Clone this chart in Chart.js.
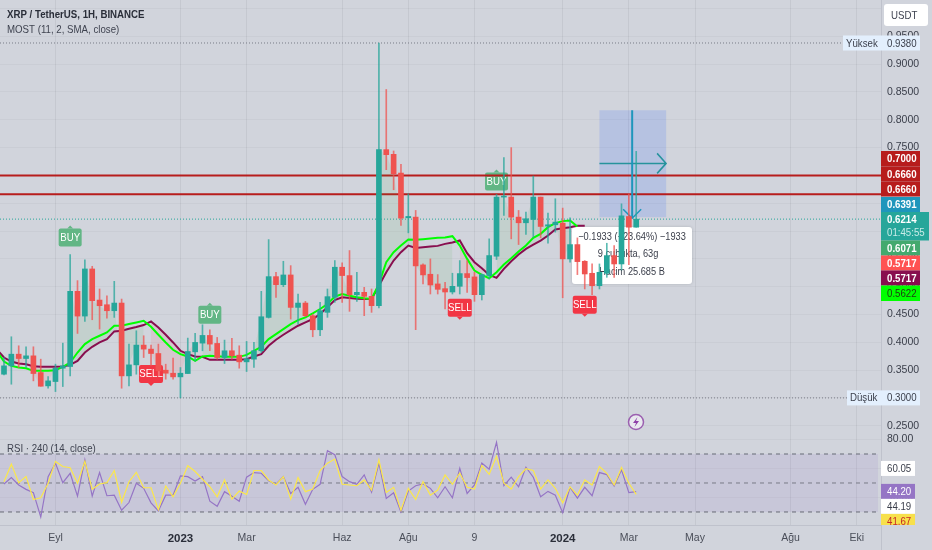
<!DOCTYPE html>
<html>
<head>
    <meta charset="utf-8">
    <title>XRP / TetherUS</title>
    <script src="https://cdn.jsdelivr.net/npm/chart.js"></script>
    <style>
        html, body { margin: 0; padding: 0; background: #d1d4dc; overflow: hidden; }
        canvas { position: absolute; left: 0; }
        #priceChart { top: 0; }
        #rsiChart { top: 433px; }
    </style>
</head>
<body>
    <canvas id="priceChart" width="932" height="433"></canvas>
    <canvas id="rsiChart" width="932" height="117"></canvas>
    <script>
        // candles, one per slot on the time axis
        const opens = [.3426,.3576,.3786,.3708,.3756,.3456,.3216,.3294,.3534,.3564,.4916,.4471,.5318,.4759,.4675,.4567,.4705,.3396,.3594,.3949,.3877,.3798,.3498,.3444,.3378,.3438,.3828,.3985,.4123,.3979,.3726,.3847,.3768,.3648,.3696,.3847,.4447,.5180,.5036,.5210,.4627,.4705,.4477,.4225,.4538,.4808,.5349,.5199,.4856,.4898,.4826,.4658,.7463,.7379,.7042,.6238,.6250,.5391,.5223,.5049,.4964,.4904,.5006,.5235,.5175,.4856,.5199,.5547,.6610,.6610,.6250,.6148,.6208,.6610,.6088,.6112,.6142,.5498,.5756,.5456,.5240,.5018,.5240,.5558,.5408,.6261,.6069];
        const closes = [.3576,.3786,.3708,.3756,.3438,.3210,.3306,.3534,.3576,.4916,.4471,.5318,.4747,.4657,.4567,.4705,.3396,.3594,.3949,.3877,.3798,.3486,.3444,.3378,.3444,.3834,.3997,.4123,.3967,.3726,.3847,.3756,.3648,.3702,.3847,.4459,.5180,.5036,.5210,.4627,.4705,.4477,.4225,.4567,.4820,.5349,.5199,.4856,.4898,.4826,.4658,.7463,.7373,.7030,.6232,.6262,.5373,.5211,.5030,.4952,.4904,.5006,.5235,.5163,.4856,.5217,.5559,.6610,.6622,.6250,.6148,.6220,.6610,.6082,.6112,.6160,.5499,.5756,.5450,.5228,.5018,.5258,.5558,.5408,.6273,.6069,.6214];
        const highs = [.3726,.4099,.3937,.3919,.3919,.3696,.3384,.3606,.3985,.5576,.5108,.5480,.5366,.4958,.4837,.5096,.4777,.3967,.4207,.4117,.3949,.3967,.3606,.3714,.3546,.4075,.4159,.4315,.4225,.4087,.4039,.4069,.3937,.4015,.3997,.4916,.5846,.5258,.5456,.5378,.4867,.4735,.4507,.4717,.4958,.5469,.5427,.5649,.5259,.4988,.4958,.9380,.8544,.7439,.7199,.6670,.6370,.5409,.5499,.5217,.5079,.5241,.5469,.5469,.5259,.5229,.5859,.6658,.7319,.7499,.6370,.6340,.6988,.6610,.6322,.6580,.6412,.6237,.5877,.5468,.5408,.5408,.5780,.5738,.6489,.6669,.7432];
        const lows = [.3414,.3246,.3546,.3546,.3306,.3210,.3174,.3114,.3204,.3396,.4159,.4375,.4405,.4237,.4435,.4447,.3174,.3216,.3426,.3726,.3576,.3396,.3336,.3336,.3000,.3438,.3666,.3847,.3847,.3696,.3618,.3696,.3534,.3474,.3546,.3817,.4435,.4807,.5000,.4417,.4327,.4459,.4099,.4117,.4448,.4718,.4718,.4556,.4736,.4478,.4538,.4616,.7103,.6742,.6100,.5967,.4226,.5049,.4868,.4868,.4598,.4868,.4868,.4898,.4736,.4760,.5139,.5487,.6280,.5859,.5757,.5937,.5889,.5877,.5781,.5979,.4800,.5438,.5216,.4958,.4855,.4958,.5168,.5168,.5300,.5396,.6069];

        // MOST and its moving average, first value sits one slot left of the first candle
        const mostLine = [.3877,.3726,.3654,.3618,.3606,.3570,.3558,.3558,.3558,.3564,.3594,.3666,.3816,.3919,.3997,.4057,.4195,.4207,.4243,.4273,.4309,.4375,.4267,.4135,.3997,.3847,.3786,.3744,.3738,.3684,.3684,.3684,.3684,.3684,.3696,.3744,.3786,.3937,.4045,.4135,.4219,.4297,.4357,.4418,.4508,.4628,.4760,.4808,.4796,.4784,.4778,.4778,.5018,.5259,.5469,.5619,.5739,.5697,.5709,.5721,.5733,.5769,.5793,.5829,.5601,.5439,.5331,.5211,.5157,.5319,.5457,.5577,.5679,.5757,.5829,.5919,.6027,.6051,.6069,.6094,.6094];
        const emaLine = [.3847,.3654,.3576,.3546,.3534,.3486,.3486,.3486,.3498,.3558,.3636,.3816,.3967,.4057,.4117,.4177,.4297,.4297,.4327,.4357,.4387,.4279,.4135,.3997,.3865,.3786,.3744,.3666,.3744,.3756,.3750,.3738,.3738,.3738,.3774,.3847,.3919,.4057,.4147,.4237,.4327,.4399,.4447,.4520,.4598,.4688,.4820,.4868,.4838,.4808,.4790,.4778,.5049,.5439,.5619,.5739,.5847,.5841,.5853,.5865,.5877,.5883,.5907,.5739,.5499,.5289,.5211,.5151,.5259,.5397,.5511,.5631,.5739,.5877,.5949,.6069,.6142,.6178,.6190,.6082];

        // RSI pane
        const rsiLine = [49.3,53.7,48.6,45.6,43.3,26.5,54.4,63.7,50.2,56.7,40.9,66.0,40.9,57.2,41.2,41.6,31.2,36.5,49.8,46.3,36.3,30.7,41.6,41.6,54.9,54.4,51.4,54.4,37.4,33.9,44.0,40.9,37.4,54.0,57.2,56.7,51.6,49.1,54.4,42.8,47.0,35.3,45.6,49.1,72.3,69.5,54.4,50.9,49.1,55.6,43.7,63.7,39.3,43.3,30.0,44.4,48.1,49.3,46.3,39.8,47.4,39.8,60.2,42.8,48.6,63.7,59.5,78.1,48.1,54.0,47.4,60.9,54.0,40.5,44.2,41.6,29.5,47.0,39.5,47.0,41.2,57.2,55.8,47.9,59.1,43.3,44.0];
        const rsiSmaLine = [50.9,63.0,50.2,54.4,38.6,39.8,49.8,64.9,61.4,60.5,49.8,64.9,45.6,49.3,50.2,58.6,36.7,50.9,57.4,46.7,46.7,31.6,47.9,40.5,49.8,61.9,57.9,52.6,47.4,40.5,52.1,38.8,44.4,42.1,58.6,58.6,52.1,48.6,54.4,38.8,53.7,44.0,45.8,58.6,63.7,66.5,49.1,48.6,48.1,52.1,45.1,66.0,43.5,47.0,31.2,46.3,38.6,50.9,41.6,45.1,55.6,49.1,56.7,47.0,45.8,62.1,56.0,68.4,49.8,45.8,54.4,59.8,58.6,45.8,52.1,46.3,36.3,47.4,41.6,52.1,48.6,61.4,56.7,48.6,60.7,49.8,42.1];

        // axes
        const timeTickSlots = [7, 24, 33, 46, 55, 64, 76, 85, 94, 107, 116];
        const timeTickLabels = ['Eyl', '2023', 'Mar', 'Haz', 'Ağu', '9', '2024', 'Mar', 'May', 'Ağu', 'Eki'];
        const yearTicks = ['2023', '2024'];
        const priceTicks = [1, .95, .9, .85, .8, .75, .7, .65, .6, .55, .5, .45, .4, .35, .3, .25];
        const rsiTicks = [80, 60, 40];
        const rsiLevels = [70, 50, 30];

        // levels, drawings and signals
        const levelPrices = [.7, .666];
        const highPrice = .938;
        const lowPrice = .3;
        const lastPrice = .6214;
        const buySlots = [9, 28, 67];
        const buyPrices = [.6045, .4658, .7054];
        const sellSlots = [20, 62, 79];
        const sellPrices = [.327, .4459, .4514];
        const measureBox = { slotFrom: 81, slotTo: 90.07, priceTop: .8171, priceBottom: .6249, slotMid: 85.45, priceMid: .7216 };
        const measureText = ['−0.1933 (−23.64%) −1933', '9 çubukta, 63g', 'Hacim 25.685 B'];
        const sideLabels = ['0.7000', '0.6660', '0.6660', '0.6391', '0.6214', '0.6071', '0.5717', '0.5717', '0.5622'];
        const rsiSideLabels = ['60.05', '44.20', '44.19', '41.67'];

        const FONT = '"Liberation Sans", Arial, sans-serif';
        const TEAL = '#26a69a';
        const RED = '#ef5350';
        const SLOT_MIN = -0.544;
        const SLOT_MAX = 119.3;

        Chart.defaults.animation = false;
        Chart.defaults.font.family = FONT;

        const points = (values, firstSlot) => values.map((y, i) => ({ x: i + firstSlot, y: y }));
        const candleColor = (alpha) => closes.map((c, i) => {
            const up = c >= opens[i];
            return alpha === 1 ? (up ? TEAL : RED) : (up ? `rgba(38,166,154,${alpha})` : `rgba(239,83,80,${alpha})`);
        });

        // close price split by trend, painted against the MOST line
        const trendCloses = (up) => closes.slice(0, emaLine.length - 1).map((c, i) => {
            const isUp = emaLine[i + 1] > mostLine[i + 1];
            return isUp === up ? c : null;
        });

        // the screenshot's text is a little narrower than any installed face
        function squeezed(ctx, text, x, y) {
            ctx.save();
            ctx.translate(x, y);
            ctx.scale(0.88, 1);
            ctx.fillText(text, 0, 0);
            ctx.restore();
        }

        function roundRect(ctx, x, y, w, h, r, fill) {
            ctx.beginPath();
            ctx.roundRect(x, y, w, h, r);
            ctx.fillStyle = fill;
            ctx.fill();
        }

        function tag(ctx, x, y, w, h, bg, color, text, font, inset) {
            ctx.fillStyle = bg;
            ctx.fillRect(x, y, w, h);
            ctx.fillStyle = color;
            ctx.font = font || `11px ${FONT}`;
            ctx.textAlign = 'left';
            ctx.textBaseline = 'middle';
            squeezed(ctx, text, x + (inset === undefined ? 6 : inset), y + h / 2 + 0.5);
        }

        function flatLine(ctx, area, y, color, width, dash) {
            ctx.save();
            ctx.beginPath();
            ctx.setLineDash(dash || []);
            ctx.moveTo(area.left, y);
            ctx.lineTo(area.right, y);
            ctx.strokeStyle = color;
            ctx.lineWidth = width;
            ctx.stroke();
            ctx.restore();
        }

        // drawings that sit under the candles
        const priceDrawings = {
            id: 'priceDrawings',
            beforeDatasetsDraw(chart) {
                const { ctx, chartArea: area, scales: { x, y } } = chart;
                ctx.save();

                const left = x.getPixelForValue(measureBox.slotFrom);
                const right = x.getPixelForValue(measureBox.slotTo);
                const top = y.getPixelForValue(measureBox.priceTop);
                const bottom = y.getPixelForValue(measureBox.priceBottom);
                ctx.fillStyle = 'rgba(41,98,255,0.16)';
                ctx.fillRect(left, top, right - left, bottom - top);

                flatLine(ctx, area, y.getPixelForValue(highPrice), '#787b86', 1, [1, 2]);
                flatLine(ctx, area, y.getPixelForValue(lowPrice), '#787b86', 1, [1, 2]);
                flatLine(ctx, area, y.getPixelForValue(lastPrice), TEAL, 1, [1, 2]);

                // BUY / SELL flags
                ctx.font = `11px ${FONT}`;
                ctx.textAlign = 'center';
                ctx.textBaseline = 'middle';
                buySlots.forEach((slot, i) => {
                    const cx = x.getPixelForValue(slot);
                    const ty = y.getPixelForValue(buyPrices[i]);
                    roundRect(ctx, cx - 11.5, ty, 23, 18, 2, '#62b685');
                    ctx.beginPath();
                    ctx.moveTo(cx - 3, ty);
                    ctx.lineTo(cx, ty - 3);
                    ctx.lineTo(cx + 3, ty);
                    ctx.fill();
                    ctx.fillStyle = '#ffffff';
                    squeezed(ctx, 'BUY', cx, ty + 9.5);
                });
                sellSlots.forEach((slot, i) => {
                    const cx = x.getPixelForValue(slot);
                    const by = y.getPixelForValue(sellPrices[i]);
                    roundRect(ctx, cx - 12, by - 18, 24, 18, 2, '#f23645');
                    ctx.beginPath();
                    ctx.moveTo(cx - 3, by);
                    ctx.lineTo(cx, by + 3);
                    ctx.lineTo(cx + 3, by);
                    ctx.fill();
                    ctx.fillStyle = '#ffffff';
                    squeezed(ctx, 'SELL', cx, by - 8.5);
                });

                levelPrices.forEach((p) => flatLine(ctx, area, y.getPixelForValue(p), '#b71c1c', 2));

                // measure tooltip
                ctx.shadowColor = 'rgba(42,46,57,0.2)';
                ctx.shadowBlur = 3;
                roundRect(ctx, 572, 227, 120, 57, 3, '#ffffff');
                ctx.shadowBlur = 0;
                ctx.fillStyle = '#3a3e4a';
                ctx.font = `10.5px ${FONT}`;
                ctx.textAlign = 'center';
                measureText.forEach((line, i) => squeezed(ctx, line, i === 1 ? 628 : 632, 237 + i * 17.5));

                // horizontal arrow
                const midX = x.getPixelForValue(measureBox.slotMid);
                const midY = y.getPixelForValue(measureBox.priceMid);
                ctx.strokeStyle = '#26939c';
                ctx.lineWidth = 1.5;
                ctx.beginPath();
                ctx.moveTo(left, midY);
                ctx.lineTo(right, midY);
                ctx.moveTo(right - 9, midY - 10);
                ctx.lineTo(right, midY);
                ctx.lineTo(right - 9, midY + 10);
                ctx.stroke();

                // vertical arrow
                ctx.strokeStyle = '#1e96bc';
                ctx.lineWidth = 2;
                ctx.beginPath();
                ctx.moveTo(midX, top);
                ctx.lineTo(midX, bottom + 1);
                ctx.stroke();
                ctx.lineWidth = 1.5;
                ctx.beginPath();
                ctx.moveTo(midX - 9, bottom - 8);
                ctx.lineTo(midX, bottom + 1);
                ctx.lineTo(midX + 9, bottom - 8);
                ctx.stroke();
                ctx.restore();
            },
            afterDraw(chart) {
                const { ctx, chartArea: area, scales: { y } } = chart;
                ctx.save();

                // legend text
                ctx.textAlign = 'left';
                ctx.textBaseline = 'middle';
                ctx.fillStyle = '#2a2e39';
                ctx.font = `bold 11px ${FONT}`;
                squeezed(ctx, 'XRP / TetherUS, 1H, BINANCE', 7, 15);
                ctx.fillStyle = '#3f4350';
                ctx.font = `11px ${FONT}`;
                squeezed(ctx, 'MOST (11, 2, SMA, close)', 7, 30);

                // USDT button
                roundRect(ctx, 884, 4, 44, 22, 3, '#ffffff');
                ctx.fillStyle = '#3f4350';
                ctx.font = `11px ${FONT}`;
                squeezed(ctx, 'USDT', 891, 15.5);

                // high / low tags
                const highY = y.getPixelForValue(highPrice);
                const lowY = y.getPixelForValue(lowPrice);
                tag(ctx, 843, highY - 7.5, 38, 15, '#e3effd', '#3a3e4a', 'Yüksek', undefined, 3);
                tag(ctx, 881, highY - 7.5, 39, 15, '#e3effd', '#3a3e4a', highPrice.toFixed(4));
                tag(ctx, 847, lowY - 7.5, 34, 15, '#e3effd', '#3a3e4a', 'Düşük', undefined, 3);
                tag(ctx, 881, lowY - 7.5, 39, 15, '#e3effd', '#3a3e4a', lowPrice.toFixed(4));

                // price tags on the right, stacked so they do not overlap
                const bold = `bold 11px ${FONT}`;
                tag(ctx, 881, 151, 39, 15.5, '#b71c1c', '#ffffff', sideLabels[0], bold);
                tag(ctx, 881, 166.5, 39, 15, '#b71c1c', '#ffffff', sideLabels[1], bold);
                tag(ctx, 881, 181.5, 39, 15, '#b71c1c', '#ffffff', sideLabels[2], bold);
                tag(ctx, 881, 197, 39, 15, '#1e96bc', '#ffffff', sideLabels[3], bold);
                ctx.fillStyle = TEAL;
                ctx.fillRect(881, 212, 48, 28.5);
                ctx.fillStyle = '#ffffff';
                ctx.font = bold;
                squeezed(ctx, sideLabels[4], 887, 219.5);
                ctx.fillStyle = '#c9ece8';
                ctx.font = `11px ${FONT}`;
                squeezed(ctx, '01:45:55', 887, 232.5);
                tag(ctx, 881, 240.5, 39, 15, '#43a96e', '#ffffff', sideLabels[5], bold);
                tag(ctx, 881, 255.5, 39, 15, '#ff5252', '#ffffff', sideLabels[6], bold);
                tag(ctx, 881, 270.5, 39, 15, '#880e4f', '#ffffff', sideLabels[7], bold);
                tag(ctx, 881, 285.5, 39, 15.5, '#00ff00', '#1f3b12', sideLabels[8]);

                // flash icon
                ctx.beginPath();
                ctx.arc(636, 422, 7.5, 0, Math.PI * 2);
                ctx.fillStyle = '#e9e9ef';
                ctx.fill();
                ctx.strokeStyle = '#9b5fb0';
                ctx.lineWidth = 1.5;
                ctx.stroke();
                ctx.beginPath();
                ctx.moveTo(637.5, 417);
                ctx.lineTo(633, 423);
                ctx.lineTo(636, 423);
                ctx.lineTo(634.5, 427);
                ctx.lineTo(639, 421);
                ctx.lineTo(636, 421);
                ctx.closePath();
                ctx.fillStyle = '#8e3fa8';
                ctx.fill();

                // pane separator
                ctx.fillStyle = '#e6e8ee';
                ctx.fillRect(0, area.bottom, 932, 1);
                ctx.restore();
            }
        };

        const rsiDrawings = {
            id: 'rsiDrawings',
            beforeDatasetsDraw(chart) {
                const { ctx, chartArea: area, scales: { y } } = chart;
                ctx.save();
                const top = y.getPixelForValue(rsiLevels[0]);
                const bottom = y.getPixelForValue(rsiLevels[2]);
                ctx.fillStyle = 'rgba(126,87,194,0.1)';
                ctx.fillRect(area.left, top, area.width - 3, bottom - top);
                const short = { left: area.left, right: area.right - 3 };
                flatLine(ctx, short, top, '#787b86', 1.2, [4, 4]);
                flatLine(ctx, short, y.getPixelForValue(rsiLevels[1]), '#787b86', 1, [4, 4]);
                flatLine(ctx, short, bottom, '#787b86', 1.2, [4, 4]);
                ctx.restore();
            },
            afterDraw(chart) {
                const { ctx, chartArea: area, scales: { y } } = chart;
                ctx.save();
                ctx.textAlign = 'left';
                ctx.textBaseline = 'middle';
                ctx.fillStyle = '#3f4350';
                ctx.font = `11px ${FONT}`;
                squeezed(ctx, 'RSI · 240 (14, close)', 7, 16);

                const y44 = y.getPixelForValue(44.2);
                tag(ctx, 881, y.getPixelForValue(60.05) - 7.5, 34, 15, '#ffffff', '#3a3e4a', rsiSideLabels[0]);
                tag(ctx, 881, y44 - 7.5, 34, 15, '#9575c5', '#ffffff', rsiSideLabels[1]);
                tag(ctx, 881, y44 + 7.5, 34, 15, '#ffffff', '#3a3e4a', rsiSideLabels[2]);
                ctx.beginPath();
                ctx.rect(881, 0, 51, area.bottom);
                ctx.clip();
                tag(ctx, 881, y44 + 22.5, 34, 15, '#f7e04b', '#c62828', rsiSideLabels[3]);
                ctx.restore();

                // right border carries on under the pane
                ctx.fillStyle = '#bfc2cc';
                ctx.fillRect(area.right, area.bottom, 1, 25);
            }
        };

        const timeTicks = (scale) => {
            scale.ticks = timeTickSlots.map((v) => ({ value: v }));
        };
        const noPadding = (scale) => {
            scale.paddingTop = 0;
            scale.paddingBottom = 0;
            scale.paddingLeft = 0;
            scale.paddingRight = 0;
        };
        const isYear = (c) => c.tick && yearTicks.includes(timeTickLabels[timeTickSlots.indexOf(c.tick.value)]);

        const priceChart = new Chart(document.getElementById('priceChart'), {
            type: 'bar',
            data: {
                datasets: [
                    {
                        // candle bodies
                        data: opens.map((o, i) => ({ x: i, y: [o, closes[i]] })),
                        backgroundColor: candleColor(1),
                        barThickness: 5,
                        minBarLength: 1,
                        grouped: false
                    },
                    {
                        // wicks
                        data: highs.map((h, i) => ({ x: i, y: [lows[i], h] })),
                        backgroundColor: candleColor(0.75),
                        barThickness: 1,
                        grouped: false
                    },
                    {
                        type: 'line',
                        data: points(emaLine, -1),
                        borderColor: '#00ff00',
                        borderWidth: 2,
                        pointRadius: 0,
                        tension: 0
                    },
                    {
                        type: 'line',
                        data: points(mostLine, -1),
                        borderColor: '#880e4f',
                        borderWidth: 2,
                        pointRadius: 0,
                        tension: 0
                    },
                    {
                        type: 'line',
                        data: points(trendCloses(true), 0),
                        borderWidth: 0,
                        borderColor: 'transparent',
                        pointRadius: 0,
                        tension: 0,
                        fill: { target: 3, above: 'rgba(76,175,80,0.1)', below: 'rgba(76,175,80,0.1)' }
                    },
                    {
                        type: 'line',
                        data: points(trendCloses(false), 0),
                        borderWidth: 0,
                        borderColor: 'transparent',
                        pointRadius: 0,
                        tension: 0,
                        fill: { target: 3, above: 'rgba(255,82,82,0.1)', below: 'rgba(255,82,82,0.1)' }
                    }
                ]
            },
            options: {
                responsive: false,
                layout: { padding: 0 },
                plugins: { legend: { display: false }, tooltip: { enabled: false } },
                scales: {
                    x: {
                        type: 'linear',
                        offset: false,
                        min: SLOT_MIN,
                        max: SLOT_MAX,
                        afterBuildTicks: timeTicks,
                        afterFit: (scale) => { scale.height = 0; noPadding(scale); },
                        ticks: { display: false },
                        border: { display: false },
                        grid: { color: 'rgba(42,46,57,0.07)', drawTicks: false, offset: false }
                    },
                    y: {
                        position: 'right',
                        min: .2369,
                        max: 1.0153,
                        afterBuildTicks: (scale) => { scale.ticks = priceTicks.map((v) => ({ value: v })); },
                        afterFit: (scale) => { scale.width = 51; noPadding(scale); },
                        ticks: {
                            padding: 6,
                            color: '#3a3e4a',
                            font: { size: 10.5 },
                            // the top grid line sits behind the USDT button, it has no label
                            callback: (v) => v === 1 ? '' : v.toFixed(4)
                        },
                        border: { color: '#bfc2cc' },
                        grid: { color: 'rgba(42,46,57,0.04)', drawTicks: false }
                    }
                }
            },
            plugins: [priceDrawings]
        });

        const rsiChart = new Chart(document.getElementById('rsiChart'), {
            type: 'line',
            data: {
                datasets: [
                    {
                        data: points(rsiSmaLine, 0),
                        borderColor: '#fbe74a',
                        borderWidth: 1.2,
                        pointRadius: 0,
                        tension: 0
                    },
                    {
                        data: points(rsiLine, 0),
                        borderColor: '#9575c5',
                        borderWidth: 1.2,
                        pointRadius: 0,
                        tension: 0
                    }
                ]
            },
            options: {
                responsive: false,
                layout: { padding: 0 },
                plugins: { legend: { display: false }, tooltip: { enabled: false } },
                scales: {
                    x: {
                        type: 'linear',
                        min: SLOT_MIN,
                        max: SLOT_MAX,
                        afterBuildTicks: timeTicks,
                        afterFit: (scale) => { scale.height = 25; noPadding(scale); },
                        ticks: {
                            padding: 7,
                            maxRotation: 0,
                            autoSkip: false,
                            color: (c) => isYear(c) ? '#2a2e39' : '#4a4e59',
                            font: (c) => isYear(c) ? { size: 11.5, weight: 'bold' } : { size: 10.5 },
                            callback: (v) => timeTickLabels[timeTickSlots.indexOf(v)]
                        },
                        border: { color: '#bfc2cc' },
                        grid: { color: 'rgba(42,46,57,0.07)', drawTicks: false }
                    },
                    y: {
                        position: 'right',
                        min: 21,
                        max: 84.5,
                        afterBuildTicks: (scale) => { scale.ticks = rsiTicks.map((v) => ({ value: v })); },
                        afterFit: (scale) => { scale.width = 51; noPadding(scale); },
                        ticks: {
                            padding: 6,
                            color: '#3a3e4a',
                            font: { size: 10.5 },
                            callback: (v) => v.toFixed(2)
                        },
                        border: { color: '#bfc2cc' },
                        grid: { color: 'rgba(42,46,57,0.04)', drawTicks: false }
                    }
                }
            },
            plugins: [rsiDrawings]
        });
    </script>
</body>
</html>
